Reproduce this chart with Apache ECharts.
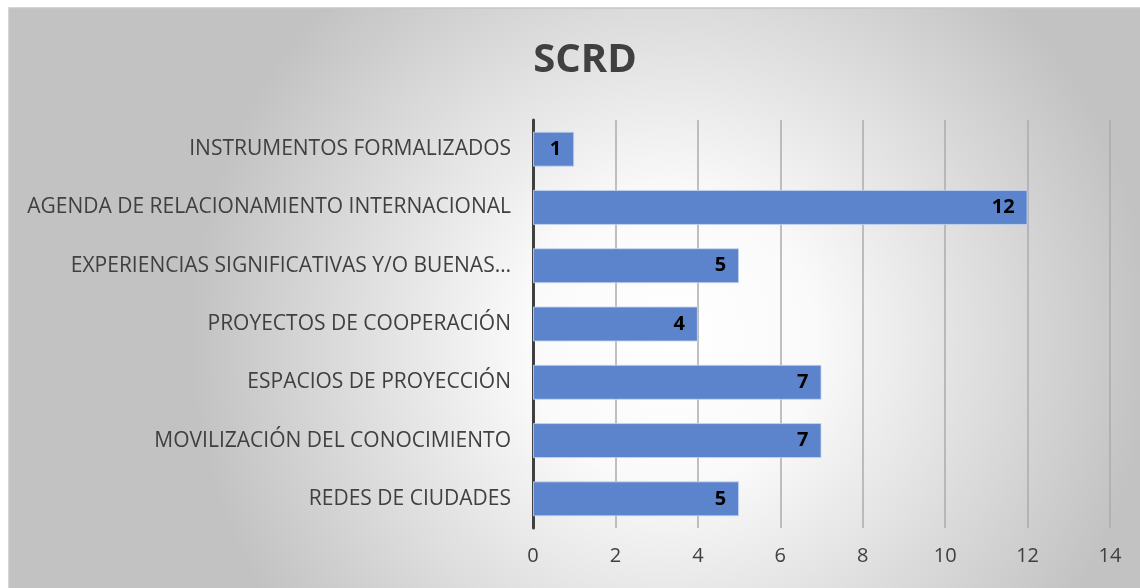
<!DOCTYPE html>
<html><head><meta charset="utf-8">
<script src="https://cdn.jsdelivr.net/npm/echarts@6/dist/echarts.min.js"></script>
<style>html,body{margin:0;padding:0;background:#fff}#c{width:1140px;height:588px}</style>
</head><body><div id="c"></div>
<script>
const titleText = 'SCRD';
const categories = [
  'INSTRUMENTOS FORMALIZADOS',
  'AGENDA DE RELACIONAMIENTO INTERNACIONAL',
  'EXPERIENCIAS SIGNIFICATIVAS Y/O BUENAS…',
  'PROYECTOS DE COOPERACIÓN',
  'ESPACIOS DE PROYECCIÓN',
  'MOVILIZACIÓN DEL CONOCIMIENTO',
  'REDES DE CIUDADES'
];
const values = [1, 12, 5, 4, 7, 7, 5];
const axisMin = 0, axisMax = 14, axisStep = 2;

const chart = echarts.init(document.getElementById('c'), null, {renderer:'canvas'});
chart.setOption({
  animation: false,
  graphic: [{
    type: 'rect', z: -10, silent: true,
    shape: {x: 9, y: 8, width: 1140, height: 600},
    style: {
      fill: new echarts.graphic.RadialGradient(0.58, 0.55, 0.8, [
        {offset: 0, color: '#ffffff'},
        {offset: 0.3, color: '#fafafa'},
        {offset: 1, color: '#c2c2c2'}
      ]),
      stroke: '#c8c8c8', lineWidth: 1.5
    }
  }],
  title: {
    text: titleText, left: 580, top: 36, textAlign: 'center',
    textStyle: {fontFamily: 'Open Sans', fontWeight: 'bold', fontSize: 40, color: '#404040'}
  },
  grid: {left: 533, right: 30, top: 120, bottom: 60, containLabel: false},
  xAxis: {
    type: 'value', min: axisMin, max: axisMax, interval: axisStep,
    axisLine: {show: false}, axisTick: {show: false},
    splitLine: {lineStyle: {color: '#ababab', width: 1.5}},
    axisLabel: {fontFamily: 'Open Sans', fontSize: 20, color: '#404040', margin: 18}
  },
  yAxis: {
    type: 'category', data: categories, inverse: true,
    axisLine: {lineStyle: {color: '#404040', width: 3}},
    axisTick: {show: false},
    axisLabel: {fontFamily: 'Open Sans', fontSize: 21, color: '#404040', margin: 22}
  },
  series: [{
    type: 'bar', data: values, barWidth: 35,
    itemStyle: {color: '#5b84cc', borderColor: 'rgba(200,215,240,0.8)', borderWidth: 1},
    label: {show: true, position: 'insideRight', distance: 13,
      fontFamily: 'Open Sans', fontWeight: 'bold', fontSize: 20, color: '#000'}
  }]
});
</script></body></html>
